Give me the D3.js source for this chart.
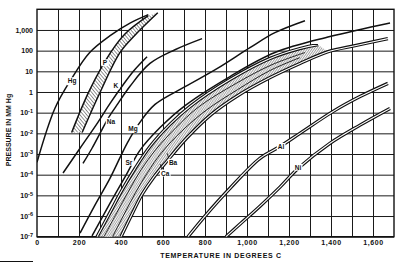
<!DOCTYPE html>
<html>
<head>
<meta charset="utf-8">
<script src="https://cdn.jsdelivr.net/npm/d3@7"></script>
<style>
  body { margin: 0; background: #fff; }
  svg { display: block; }
  text { font-family: "Liberation Sans", Arial, sans-serif; font-weight: bold; fill: #111; }
</style>
</head>
<body>
<div id="chart"></div>
<script>
// axis ticks
const tempTicks = [0, 200, 400, 600, 800, 1000, 1200, 1400, 1600];
const tempTickLabels = ["0", "200", "400", "600", "800", "1,000", "1,200", "1,400", "1,600"];
const pressTicks = [1e3, 1e2, 10, 1, 1e-1, 1e-2, 1e-3, 1e-4, 1e-5, 1e-6, 1e-7];
const pressTickBase = ["1,000", "100", "10", "1", "10", "10", "10", "10", "10", "10", "10"];
const pressTickExp = ["", "", "", "", "-1", "-2", "-3", "-4", "-5", "-6", "-7"];

// vapour pressure curves: temperature (deg C) / pressure (mm Hg)
const hgT = [0, 85, 165, 250, 350, 445, 530];
const hgP = [4e-4, 0.16, 4.5, 80, 550, 2200, 5500];

const phLeftT = [165, 250, 350, 420, 530];
const phLeftP = [1.1e-2, 1.2, 80, 660, 4900];
const phRightT = [215, 300, 395, 465, 575];
const phRightP = [1.1e-2, 0.95, 80, 540, 6800];

const kT = [124, 205, 290, 348, 405, 462, 524];
const kP = [1.2e-4, 1.9e-3, 3.4e-2, 0.28, 1.9, 11, 51];

const naT = [219, 262, 300, 338, 386, 443, 538, 657, 786];
const naP = [3.5e-4, 1.9e-3, 1e-2, 5.2e-2, 0.28, 1.9, 24, 110, 380];

const mgT = [205, 276, 348, 429, 490, 562, 705, 857, 1014, 1133, 1276];
const mgP = [1.5e-7, 3.4e-6, 6.8e-5, 3.3e-3, 3.4e-2, 0.25, 1.8, 13.5, 140, 740, 2800];

const srT = [262, 348, 424, 490, 586, 705, 919, 1133, 1395, 1681];
const srP = [1.1e-7, 4.2e-6, 9.5e-5, 1.5e-3, 1.9e-2, 0.22, 5.6, 81, 480, 2200];

// Ca / Ba band
const caT = [286, 348, 405, 467, 538, 633, 729, 919, 1110, 1252, 1338];
const caP = [1e-7, 1.5e-6, 1.8e-5, 2e-4, 2.3e-3, 2.7e-2, 0.2, 4, 42, 126, 195];
const baT = [400, 455, 500, 556, 622, 712, 830, 957, 1110, 1252, 1386, 1514, 1671];
const baP = [1e-7, 1.4e-6, 1.1e-5, 7.6e-5, 5e-4, 5.8e-3, 8.3e-2, 0.68, 5, 24, 89, 174, 380];
const mid1T = [319, 381, 433, 495, 567, 662, 767, 948, 1119, 1276];
const mid1P = [1e-7, 1.5e-6, 1.4e-5, 1.7e-4, 1.7e-3, 1.9e-2, 0.18, 2.6, 21, 81];
const mid2T = [360, 418, 470, 527, 594, 690, 805, 955, 1110, 1252];
const mid2P = [1e-7, 1.4e-6, 1.4e-5, 1.3e-4, 1.2e-3, 1.3e-2, 0.13, 1.3, 11, 46];

const alT = [719, 800, 919, 1062, 1157, 1252, 1410, 1538, 1671];
const alP = [1e-7, 1e-6, 2.2e-5, 6.2e-4, 2.3e-3, 1e-2, 0.115, 0.6, 2.6];

const niT = [900, 967, 1062, 1157, 1243, 1395, 1538, 1681];
const niP = [1e-7, 4.1e-7, 3e-6, 2.5e-5, 2e-4, 3.3e-3, 2.5e-2, 0.16];

const curveLabels = [
  { name: "Hg", t: 167, p: 3.5 },
  { name: "P", t: 324, p: 26 },
  { name: "K", t: 376, p: 2 },
  { name: "Na", t: 352, p: 0.038 },
  { name: "Mg", t: 457, p: 0.017 },
  { name: "Sr", t: 438, p: 4e-4 },
  { name: "Ba", t: 648, p: 4e-4 },
  { name: "Ca", t: 610, p: 1.2e-4 },
  { name: "Al", t: 1162, p: 2.3e-3 },
  { name: "Ni", t: 1243, p: 2.3e-4 }
];

const W = 400, H = 263;
const svg = d3.select("#chart").append("svg").attr("width", W).attr("height", H);

const x = d3.scaleLinear().domain([0, 1700]).range([37, 394]);
const y = d3.scaleLog().domain([1e-7, 1e4]).range([236.7, 9.3]);
const plotW = x(1700) - x(0), plotH = y(1e-7) - y(1e4);

const defs = svg.append("defs");
defs.append("clipPath").attr("id", "plot").append("rect")
  .attr("x", x(0)).attr("y", y(1e4)).attr("width", plotW).attr("height", plotH);

function hatch(id, angle, gap, w) {
  const p = defs.append("pattern").attr("id", id)
    .attr("patternUnits", "userSpaceOnUse")
    .attr("width", gap).attr("height", gap)
    .attr("patternTransform", `rotate(${angle})`);
  p.append("rect").attr("width", gap).attr("height", gap).attr("fill", "#fff");
  p.append("line").attr("x1", 0).attr("y1", 0).attr("x2", 0).attr("y2", gap)
    .attr("stroke", "#111").attr("stroke-width", w);
}
hatch("hatchP", -40, 2.6, 0.9);
hatch("hatchBand", 35, 1.9, 0.75);
hatch("hatchCross", -35, 1.9, 0.75);

// grid
svg.append("g")
  .attr("transform", `translate(0,${y(1e-7)})`)
  .call(d3.axisBottom(x).tickValues(d3.range(100, 1700, 100)).tickSize(-plotH).tickFormat(""))
  .call(g => g.select(".domain").remove())
  .selectAll("line").attr("stroke", "#1a1a1a").attr("stroke-width", 1);

svg.append("g")
  .attr("transform", `translate(${x(0)},0)`)
  .call(d3.axisLeft(y).tickValues(pressTicks).tickSize(-plotW).tickFormat(""))
  .call(g => g.select(".domain").remove())
  .selectAll("line").attr("stroke", "#1a1a1a").attr("stroke-width", 1);

svg.append("rect")
  .attr("x", x(0)).attr("y", y(1e4)).attr("width", plotW).attr("height", plotH)
  .attr("fill", "none").attr("stroke", "#111").attr("stroke-width", 1.4);

// tick labels
const yAxis = svg.append("g")
  .attr("transform", `translate(${x(0)},0)`)
  .call(d3.axisLeft(y).tickValues(pressTicks).tickSize(0).tickPadding(4)
    .tickFormat((d, i) => pressTickBase[i]));
yAxis.select(".domain").remove();
yAxis.attr("font-size", 7).attr("font-family", null);
yAxis.selectAll("text").each(function(d, i) {
  if (pressTickExp[i]) {
    d3.select(this).append("tspan").attr("dy", "-0.45em").attr("font-size", 5.5).text(pressTickExp[i]);
  }
});

const xAxis = svg.append("g")
  .attr("transform", `translate(0,${y(1e-7)})`)
  .call(d3.axisBottom(x).tickValues(tempTicks).tickSize(0).tickPadding(3.5)
    .tickFormat((d, i) => tempTickLabels[i]));
xAxis.select(".domain").remove();
xAxis.attr("font-size", 7).attr("font-family", null).attr("letter-spacing", 0.6);

svg.append("text")
  .attr("x", 221).attr("y", 257.5).attr("text-anchor", "middle")
  .attr("font-size", 7).attr("letter-spacing", 0.7)
  .text("TEMPERATURE IN DEGREES C");

svg.append("text")
  .attr("transform", "translate(10.5,130) rotate(-90)")
  .attr("text-anchor", "middle").attr("font-size", 7)
  .text("PRESSURE IN MM Hg");

svg.append("line")
  .attr("x1", 0).attr("x2", 33).attr("y1", 261.5).attr("y2", 261.5)
  .attr("stroke", "#111").attr("stroke-width", 1);

// curves
const line = d3.line()
  .x(d => x(d[0]))
  .y(d => y(d[1]))
  .curve(d3.curveCatmullRom.alpha(0.5));

const plot = svg.append("g").attr("clip-path", "url(#plot)");

function band(left, right) {
  return line(left) + line(right.slice().reverse()).replace(/^M/, "L") + "Z";
}

const phLeft = d3.zip(phLeftT, phLeftP), phRight = d3.zip(phRightT, phRightP);
const ca = d3.zip(caT, caP), ba = d3.zip(baT, baP);
const mid1 = d3.zip(mid1T, mid1P), mid2 = d3.zip(mid2T, mid2P);

plot.append("path").attr("d", band(phLeft, phRight)).attr("fill", "url(#hatchP)");
plot.append("path").attr("d", band(ca, ba.filter(d => d[0] <= 1386))).attr("fill", "url(#hatchBand)");
plot.append("path").attr("d", band(mid1, mid2)).attr("fill", "url(#hatchCross)");
plot.append("path").attr("d", band(mid1, mid2)).attr("fill", "url(#hatchBand)").attr("opacity", 0.6);

const singles = [
  [hgT, hgP], [kT, kP], [naT, naP], [mgT, mgP], [srT, srP],
  [phLeftT, phLeftP], [phRightT, phRightP]
];
singles.forEach(([t, p]) => {
  plot.append("path").attr("d", line(d3.zip(t, p)))
    .attr("fill", "none").attr("stroke", "#111").attr("stroke-width", 1.5);
});

[mid1, mid2].forEach(pts => {
  plot.append("path").attr("d", line(pts))
    .attr("fill", "none").attr("stroke", "#111").attr("stroke-width", 0.9);
});

// double-ruled curves
[[caT, caP], [baT, baP], [alT, alP], [niT, niP]].forEach(([t, p]) => {
  const d = line(d3.zip(t, p));
  plot.append("path").attr("d", d).attr("fill", "none")
    .attr("stroke", "#111").attr("stroke-width", 3.4);
  plot.append("path").attr("d", d).attr("fill", "none")
    .attr("stroke", "#fff").attr("stroke-width", 1.1);
});

// leader ticks for Ba / Ca
plot.append("path").attr("d", `M${x(648) - 4},${y(4e-4) - 3}L${x(648) - 6},${y(4e-4) - 9}`)
  .attr("stroke", "#111").attr("stroke-width", 0.8);
plot.append("path").attr("d", `M${x(610) - 3},${y(1.2e-4) - 3}L${x(610) - 5},${y(1.2e-4) - 9}`)
  .attr("stroke", "#111").attr("stroke-width", 0.8);

// curve labels on white patches
const lab = svg.append("g");
curveLabels.forEach(l => {
  const g = lab.append("g");
  const txt = g.append("text")
    .attr("x", x(l.t)).attr("y", y(l.p))
    .attr("text-anchor", "middle").attr("dominant-baseline", "central")
    .attr("font-size", 6.5).text(l.name);
  const bb = txt.node().getBBox();
  g.insert("rect", "text")
    .attr("x", bb.x - 1).attr("y", bb.y)
    .attr("width", bb.width + 2).attr("height", bb.height)
    .attr("fill", "#fff");
});
</script>
</body>
</html>
